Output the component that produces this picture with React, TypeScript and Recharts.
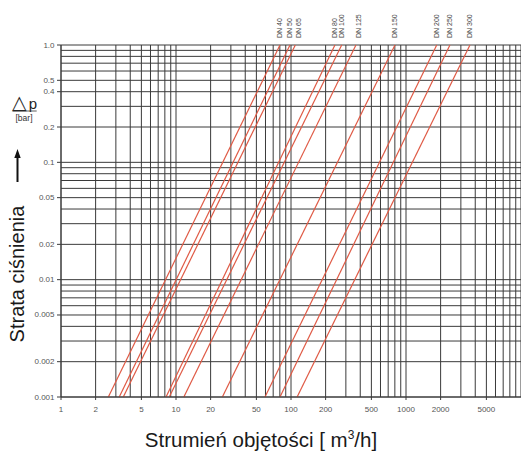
import { LineChart, Line, XAxis, YAxis, CartesianGrid } from "recharts";

// nominal sizes, one line each
const DN_NAMES = ["DN 40", "DN 50", "DN 65", "DN 80", "DN 100", "DN 125", "DN 150", "DN 200", "DN 250", "DN 300"];
// flow [m3/h] where each line meets dp = 0.001 bar (bottom) and dp = 1.0 bar (top)
const Q_AT_BOTTOM = [2.58, 3.21, 3.48, 8.19, 8.74, 11.7, 25.3, 59.4, 80.2, 113];
const Q_AT_TOP = [80.2, 98, 109, 241, 276, 367, 802, 1850, 2410, 3600];
const DP_RANGE = [0.001, 1.0];

// grid lines
const X_GRID = [
  1, 2, 3, 4, 5, 6, 7, 8, 9,
  10, 20, 30, 40, 50, 60, 70, 80, 90,
  100, 200, 300, 400, 500, 600, 700, 800, 900,
  1000, 2000, 3000, 4000, 5000, 6000, 7000, 8000, 9000, 10000,
];
const Y_GRID = [
  0.001, 0.002, 0.003, 0.004, 0.005, 0.006, 0.007, 0.008, 0.009,
  0.01, 0.02, 0.03, 0.04, 0.05, 0.06, 0.07, 0.08, 0.09,
  0.1, 0.2, 0.3, 0.4, 0.5, 0.6, 0.7, 0.8, 0.9, 1.0,
];

// labelled ticks
const X_LABELS = [1, 2, 5, 10, 20, 50, 100, 200, 500, 1000, 2000, 5000];
const Y_LABELS = [1.0, 0.5, 0.4, 0.2, 0.1, 0.05, 0.02, 0.01, 0.005, 0.002, 0.001];

// small sideways shift so the crowded DN labels don't overlap
const LABEL_NUDGE: { [key: string]: number } = { "DN 65": 3.5, "DN 125": 2.5 };

const RED = "#df5a45";
const GRID = "#3a3a3a";
const TICK_TEXT = "#555";

function XTick(props: any) {
  const { x, y, payload } = props;
  if (!X_LABELS.includes(payload.value)) return <g />;
  return (
    <g>
      <line x1={x} x2={x} y1={y} y2={y + 3} stroke={GRID} />
      <text x={x} y={y + 12} textAnchor="middle" dominantBaseline="central" fontSize={8} fill={TICK_TEXT}>
        {payload.value}
      </text>
    </g>
  );
}

function YTick(props: any) {
  const { x, y, payload } = props;
  if (!Y_LABELS.includes(payload.value)) return <g />;
  return (
    <g>
      <line x1={x - 4} x2={x} y1={y} y2={y} stroke={GRID} />
      <text x={x - 6.5} y={y} textAnchor="end" dominantBaseline="central" fontSize={8} fill={TICK_TEXT}>
        {payload.value === 1 ? "1.0" : payload.value}
      </text>
    </g>
  );
}

function App() {
  const series = DN_NAMES.map((name, i) => ({
    name,
    data: [
      { q: Q_AT_BOTTOM[i], dp: DP_RANGE[0] },
      { q: Q_AT_TOP[i], dp: DP_RANGE[1] },
    ],
  }));

  return (
    <div
      style={{
        position: "absolute",
        left: 0,
        top: 0,
        width: 521,
        height: 456,
        overflow: "hidden",
        background: "#fff",
        fontFamily: "'Liberation Sans', Arial, sans-serif",
      }}
    >
      <LineChart width={521} height={456} margin={{ top: 45, right: 0, bottom: 0, left: 0 }}>
        <CartesianGrid stroke={GRID} strokeWidth={1} />
        <XAxis
          dataKey="q"
          type="number"
          scale="log"
          domain={[1, 10000]}
          ticks={X_GRID}
          interval={0}
          height={59}
          tickSize={0}
          tickMargin={0}
          tickLine={false}
          axisLine={{ stroke: GRID }}
          tick={<XTick />}
        />
        <YAxis
          dataKey="dp"
          type="number"
          scale="log"
          domain={[0.001, 1]}
          ticks={Y_GRID}
          interval={0}
          width={61}
          tickSize={0}
          tickMargin={0}
          tickLine={false}
          axisLine={{ stroke: GRID }}
          tick={<YTick />}
        />
        {series.map((s) => (
          <Line
            key={s.name}
            data={s.data}
            dataKey="dp"
            stroke={RED}
            strokeWidth={1.2}
            dot={false}
            activeDot={false}
            isAnimationActive={false}
            label={(p: any) =>
              p.index === 1 ? (
                <text
                  key={s.name}
                  transform={`translate(${p.x + 2.5 + (LABEL_NUDGE[s.name] || 0)},${p.y - 7}) rotate(-90)`}
                  fontSize={7}
                  fill="#444"
                >
                  {s.name}
                </text>
              ) : (
                <g key={s.name + "-b"} />
              )
            }
          />
        ))}
      </LineChart>

      {/* axis titles and the dp marker */}
      <svg
        width={521}
        height={456}
        style={{ position: "absolute", left: 0, top: 0, pointerEvents: "none" }}
      >
        <text x={261} y={447} textAnchor="middle" fontSize={20.5} fill="#1a1a1a">
          Strumień objętości [ m<tspan dy={-8} fontSize={12}>3</tspan>
          <tspan dy={8}>/h]</tspan>
        </text>
        <text transform="translate(24,274) rotate(-90)" textAnchor="middle" fontSize={20} fill="#1a1a1a">
          Strata ciśnienia
        </text>
        <line x1={17.5} x2={17.5} y1={182} y2={156} stroke="#111" strokeWidth={2} />
        <polygon points="17.5,149 14.3,158 20.7,158" fill="#111" />
        <text x={12} y={109} fontSize={15} fill="#222">
          <tspan fontFamily="'DejaVu Sans'" fontSize={19}>△</tspan>
          <tspan dx={2}>p</tspan>
        </text>
        <line x1={12.7} x2={36.7} y1={111} y2={111} stroke="#333" strokeWidth={0.8} />
        <text x={24} y={121} textAnchor="middle" fontSize={8.5} fill="#333">
          [bar]
        </text>
      </svg>
    </div>
  );
}

export default App;
